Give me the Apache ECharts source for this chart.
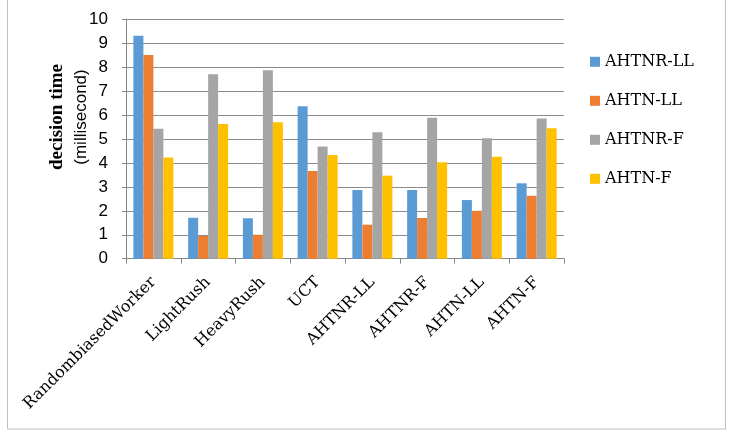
<!DOCTYPE html>
<html>
<head>
<meta charset="utf-8">
<script src="https://cdn.jsdelivr.net/npm/echarts@6/dist/echarts.min.js"></script>
<style>
  html, body { margin: 0; padding: 0; background: #fff; }
  #chart { width: 733px; height: 432px; }
</style>
</head>
<body>
<div id="chart"></div>
<script>
// Decision time per opponent, four agent variants
var categories = ['RandombiasedWorker', 'LightRush', 'HeavyRush', 'UCT', 'AHTNR-LL', 'AHTNR-F', 'AHTN-LL', 'AHTN-F'];
var seriesNames = ['AHTNR-LL', 'AHTN-LL', 'AHTNR-F', 'AHTN-F'];
var ahtnrLL = [9.31, 1.71, 1.69, 6.37, 2.87, 2.87, 2.45, 3.15];
var ahtnLL  = [8.51, 0.95, 1.00, 3.66, 1.42, 1.70, 2.00, 2.63];
var ahtnrF  = [5.43, 7.70, 7.87, 4.69, 5.28, 5.89, 5.03, 5.86];
var ahtnF   = [4.23, 5.63, 5.70, 4.33, 3.47, 4.03, 4.26, 5.45];
var colors = ['#5B9BD5', '#ED7D31', '#A5A5A5', '#FFC000'];

var chart = echarts.init(document.getElementById('chart'));

function barSeries(name, data, color) {
    return {
        name: name,
        type: 'bar',
        data: data,
        barWidth: 10,
        barGap: '0%',
        itemStyle: { color: color },
        animation: false
    };
}

chart.setOption({
    animation: false,
    grid: {
        left: 126,
        right: 169,
        top: 19.3,
        bottom: 173.3,
        containLabel: false
    },
    legend: {
        orient: 'vertical',
        left: 590,
        top: 51.8,
        padding: 0,
        itemWidth: 10,
        itemHeight: 10,
        itemGap: 19,
        icon: 'rect',
        textStyle: {
            fontFamily: 'DejaVu Serif',
            fontSize: 16,
            lineHeight: 20,
            color: '#000'
        },
        data: seriesNames
    },
    xAxis: {
        type: 'category',
        data: categories,
        axisLine: { lineStyle: { color: '#868686', width: 1 } },
        axisTick: { show: true, length: 5, lineStyle: { color: '#868686' } },
        axisLabel: {
            rotate: 45,
            margin: 21,
            interval: 0,
            fontFamily: 'DejaVu Serif',
            fontSize: 16,
            color: '#000'
        }
    },
    yAxis: {
        type: 'value',
        min: 0,
        max: 10,
        interval: 1,
        axisLine: { show: true, lineStyle: { color: '#868686', width: 1 } },
        axisTick: { show: true, length: 4, lineStyle: { color: '#868686' } },
        splitLine: { lineStyle: { color: '#8C8C8C', width: 1 } },
        axisLabel: {
            margin: 18,
            fontFamily: 'Liberation Sans',
            fontSize: 17,
            color: '#000'
        }
    },
    graphic: [
        {
            type: 'rect',
            shape: { x: 7.5, y: -2, width: 718, height: 431 },
            style: { fill: 'none', stroke: '#BFBFBF', lineWidth: 1 },
            silent: true
        },
        {
            type: 'text',
            x: 69,
            y: 117,
            rotation: Math.PI / 2,
            style: {
                text: '{a|decision time}\n{b|(millisecond)}',
                align: 'center',
                verticalAlign: 'middle',
                rich: {
                    a: { fontFamily: 'Liberation Serif', fontWeight: 'bold', fontSize: 19, lineHeight: 24, fill: '#000', align: 'center' },
                    b: { fontFamily: 'Liberation Sans', fontSize: 17, lineHeight: 24, fill: '#000', align: 'center' }
                }
            }
        }
    ],
    series: [
        barSeries(seriesNames[0], ahtnrLL, colors[0]),
        barSeries(seriesNames[1], ahtnLL, colors[1]),
        barSeries(seriesNames[2], ahtnrF, colors[2]),
        barSeries(seriesNames[3], ahtnF, colors[3])
    ]
});
</script>
</body>
</html>
